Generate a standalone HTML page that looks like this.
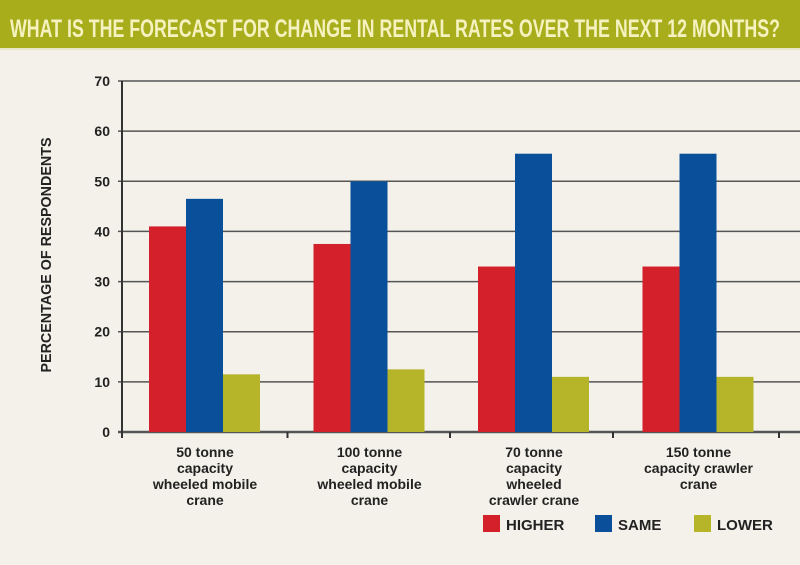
<!DOCTYPE html>
<html><head><meta charset="utf-8"><style>
body{margin:0;width:800px;height:560px;background:#f3f1ea;overflow:hidden;font-family:"Liberation Sans",sans-serif}
</style></head><body>
<svg width="800" height="560">
<rect x="0" y="0" width="800" height="48" fill="#a8ad1c"/>
<rect x="0" y="48" width="800" height="2" fill="#e8e6c8"/>
<text x="395" y="37" text-anchor="middle" font-size="25" font-weight="bold" fill="#f5f2c0" textLength="770" lengthAdjust="spacingAndGlyphs">WHAT IS THE FORECAST FOR CHANGE IN RENTAL RATES OVER THE NEXT 12 MONTHS?</text>
<text transform="translate(51,255) rotate(-90)" text-anchor="middle" font-size="15" font-weight="bold" fill="#222" textLength="235" lengthAdjust="spacingAndGlyphs">PERCENTAGE OF RESPONDENTS</text>
<g id="grid"></g><g id="bars"></g><g id="xlab"></g>
<g>
<rect x="483" y="515" width="17" height="17" fill="#d3202a"/>
<text x="506" y="530" font-size="15" font-weight="bold" fill="#222">HIGHER</text>
<rect x="595" y="515" width="17" height="17" fill="#0a4f9a"/>
<text x="618" y="530" font-size="15" font-weight="bold" fill="#222">SAME</text>
<rect x="694" y="515" width="17" height="17" fill="#b6b52a"/>
<text x="717" y="530" font-size="15" font-weight="bold" fill="#222">LOWER</text>
</g>
</svg>
<script>
const categories=[["50 tonne","capacity","wheeled mobile","crane"],["100 tonne","capacity","wheeled mobile","crane"],["70 tonne","capacity","wheeled","crawler crane"],["150 tonne","capacity crawler","crane"]];
const higher=[41,37.5,33,33];
const same=[46.5,50,55.5,55.5];
const lower=[11.5,12.5,11,11];
const ticks=[0,10,20,30,40,50,60,70];
const NS="http://www.w3.org/2000/svg";
const y=v=>432-v*(351/70);
const gx=i=>205+i*164.5;
function mk(t,a,p){const e=document.createElementNS(NS,t);for(const k in a)e.setAttribute(k,a[k]);p.appendChild(e);return e;}
const grid=document.getElementById('grid'),bars=document.getElementById('bars'),xl=document.getElementById('xlab');
ticks.forEach(v=>{
 const l=mk('line',{x1:118,x2:800,y1:y(v),y2:y(v),stroke:'#555','stroke-width':v===0?2.5:1.5},grid);
 
 
 const t=mk('text',{x:110,y:y(v)+5,'text-anchor':'end','font-size':14,'font-weight':'bold',fill:'#222'},grid);
 t.textContent=v;
 
 
});
const ax=mk('line',{x1:122,x2:122,y1:y(70),y2:y(0)+3,stroke:'#333','stroke-width':2},grid);


[122,287.5,450,613,779].forEach(x=>{const t=mk('line',{x1:x,x2:x,y1:432,y2:438,stroke:'#333','stroke-width':2},grid);
 
 });
const series=[[higher,'#d3202a','higher'],[same,'#0a4f9a','same'],[lower,'#b6b52a','lower']];
categories.forEach((c,i)=>{
 series.forEach((s,j)=>{
  const r=mk('rect',{x:gx(i)-56+j*37,y:y(s[0][i]),width:37,height:432-y(s[0][i]),fill:s[1]},bars);
  
  
 });
 c.forEach((ln,k)=>{
  const t=mk('text',{x:gx(i),y:457+k*16,'text-anchor':'middle','font-size':14,'font-weight':'bold',fill:'#222'},xl);
  t.textContent=ln;
  
  
 });
});
</script>
</body></html>
